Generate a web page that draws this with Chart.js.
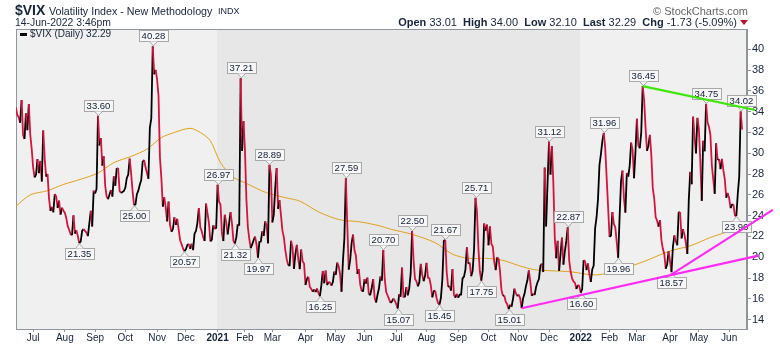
<!DOCTYPE html>
<html>
<head>
<meta charset="utf-8">
<script src="https://cdn.jsdelivr.net/npm/chart.js@4.4.0/dist/chart.umd.min.js"></script>
<style>
  html, body { margin: 0; padding: 0; background: #fff; }
  #wrap { position: relative; width: 780px; height: 345px; font-family: "Liberation Sans", Arial, sans-serif; color: #17253a; }
  #chart { position: absolute; left: 0; top: 0; }
  .t { position: absolute; white-space: nowrap; line-height: 1; }
  .t b { font-weight: bold; }
  .tri { display: inline-block; width: 0; height: 0; border-left: 4px solid transparent; border-right: 4px solid transparent; border-top: 5px solid #b3122f; margin-left: 3px; vertical-align: 1px; }
</style>
</head>
<body>
<div id="wrap">
  <canvas id="chart" width="780" height="345"></canvas>
  <div class="t" style="left:15px;top:3px;font-size:14px;font-weight:bold;">$VIX</div>
  <div class="t" style="left:49px;top:6px;font-size:10.7px;">Volatility Index - New Methodology</div>
  <div class="t" style="left:218px;top:7px;font-size:9px;">INDX</div>
  <div class="t" style="left:15px;top:18px;font-size:10.4px;">14-Jun-2022 3:46pm</div>
  <div class="t" style="right:32px;top:6px;font-size:11px;color:#666;">&copy; StockCharts.com</div>
  <div class="t" style="right:32px;top:17px;font-size:11px;"><b>Open</b> 33.01&nbsp; <b>High</b> 34.00&nbsp; <b>Low</b> 32.10&nbsp; <b>Last</b> 32.29&nbsp; <b>Chg</b> -1.73 (-5.09%)<span class="tri"></span></div>
  <div style="position:absolute;left:20px;top:33px;width:7px;height:3px;background:#000;"></div>
  <div class="t" style="left:30px;top:29px;font-size:10px;">$VIX (Daily) 32.29</div>
</div>
<script>
// ========================================
// Data
// Daily closes, one array per month.
// Day index 0 = 1 Jul 2020 (trading days).
// ========================================
const vixJun20 = [34.40, 33.67, 33.47, 32.94, 35.12, 31.77, 31.37, 33.84, 32.22, 34.73, 31.78, 30.43];
const vixJul20 = [28.62, 27.68, 27.94, 29.43, 28.08, 29.26, 27.29, 32.19, 29.52, 27.76, 28.00, 25.68, 24.46, 24.84, 24.32, 26.08, 25.84, 24.74, 25.44, 24.10, 24.76, 24.46];
const vixAug20 = [24.28, 23.76, 22.99, 22.65, 22.21, 22.13, 24.03, 22.28, 22.59, 22.05, 21.35, 21.51, 22.54, 22.72, 22.54, 22.37, 22.03, 23.27, 24.47, 22.96, 26.41];
const vixSep20 = [26.12, 26.57, 33.60, 30.75, 31.46, 28.81, 29.71, 26.87, 25.85, 25.59, 26.04, 26.46, 25.83, 27.78, 26.86, 28.58, 28.51, 26.38, 26.19, 26.27, 26.37];
const vixOct20 = [26.70, 27.63, 27.96, 29.48, 28.06, 26.36, 25.00, 25.07, 26.07, 26.40, 26.97, 27.41, 29.18, 29.35, 28.65, 28.11, 27.55, 32.46, 33.35, 40.28, 37.59, 38.02];
const vixNov20 = [37.13, 35.55, 29.57, 27.58, 24.86, 25.75, 24.80, 23.45, 25.35, 23.10, 22.45, 22.71, 23.84, 23.11, 23.70, 22.66, 21.64, 21.25, 20.84, 20.57];
const vixDec20 = [20.77, 21.17, 21.28, 20.79, 21.30, 20.68, 22.27, 22.52, 23.31, 24.72, 22.89, 22.50, 21.93, 21.57, 25.16, 24.23, 23.31, 21.53, 21.70, 23.08, 22.77, 22.75];
const vixJan21 = [26.97, 25.34, 25.07, 22.37, 21.56, 24.08, 23.33, 22.21, 23.25, 24.34, 23.24, 21.58, 21.32, 21.91, 23.19, 23.02, 37.21, 30.21, 33.09];
const vixFeb21 = [30.24, 25.56, 22.91, 21.77, 20.87, 21.24, 21.63, 21.99, 21.25, 19.97, 21.46, 21.50, 22.49, 22.05, 23.45, 23.11, 21.34, 28.89, 27.95];
const vixMar21 = [23.35, 24.10, 26.67, 28.57, 24.66, 25.47, 24.03, 22.56, 21.91, 20.69, 19.79, 19.23, 19.23, 21.58, 20.95, 18.88, 20.30, 21.20, 19.81, 18.86, 20.74, 19.61, 19.40];
const vixApr21 = [17.33, 17.91, 18.12, 17.16, 16.95, 16.69, 16.91, 16.65, 16.99, 16.57, 16.25, 17.29, 18.68, 17.50, 18.71, 17.33, 17.64, 17.56, 17.28, 17.61, 18.61];
const vixMay21 = [18.31, 19.48, 19.15, 18.39, 16.69, 19.66, 21.84, 27.59, 23.13, 18.81, 19.72, 21.34, 22.18, 20.67, 20.15, 18.40, 18.84, 17.36, 16.74, 16.76];
const vixJun21 = [17.90, 17.48, 18.04, 16.42, 16.42, 17.07, 17.89, 16.10, 15.65, 16.39, 17.02, 18.15, 17.75, 20.70, 17.89, 16.66, 16.32, 15.97, 15.62, 15.76, 16.02, 15.83];
const vixJul21 = [15.48, 15.07, 16.44, 16.20, 19.00, 16.18, 16.17, 17.12, 16.33, 17.01, 18.45, 22.50, 19.73, 17.91, 17.69, 17.20, 17.58, 19.36, 18.31, 17.70, 18.24];
const vixAug21 = [19.46, 18.04, 17.97, 17.28, 16.15, 16.72, 16.79, 16.06, 15.59, 15.45, 16.12, 17.91, 21.57, 21.67, 18.56, 17.15, 17.22, 16.79, 18.84, 16.39, 16.11, 16.48];
const vixSep21 = [16.11, 16.41, 16.41, 17.96, 18.14, 18.80, 20.95, 19.37, 19.46, 18.18, 18.69, 20.81, 25.71, 24.36, 20.87, 18.63, 17.75, 18.76, 23.25, 22.56, 23.14];
const vixOct21 = [21.15, 22.96, 21.30, 21.00, 19.54, 18.77, 20.00, 19.85, 18.64, 16.86, 16.30, 16.30, 15.70, 15.49, 15.01, 15.43, 15.24, 15.98, 16.98, 16.53, 16.26];
const vixNov21 = [16.41, 16.03, 15.10, 16.03, 16.48, 17.22, 17.78, 18.73, 17.66, 16.29, 16.49, 16.37, 17.11, 17.59, 17.91, 19.17, 19.38, 18.58, 28.62, 22.96, 27.19];
const vixDec21 = [31.12, 27.95, 30.67, 27.18, 21.89, 19.90, 21.58, 18.69, 20.31, 21.89, 19.29, 20.57, 21.57, 22.87, 19.70, 18.63, 17.96, 17.68, 17.54, 16.95, 17.33, 17.22];
const vixJan22 = [16.60, 16.91, 19.73, 19.61, 18.76, 19.40, 18.41, 17.62, 18.83, 19.19, 22.79, 23.85, 25.59, 28.85, 29.90, 31.16, 31.96, 30.49, 27.66, 24.83];
const vixFeb22 = [21.96, 22.09, 24.35, 23.22, 22.86, 21.44, 19.96, 23.91, 27.36, 28.33, 25.70, 24.29, 28.11, 27.75, 28.81, 31.02, 30.32, 27.59, 30.15];
const vixMar22 = [33.32, 30.74, 30.48, 31.98, 36.45, 35.13, 32.45, 30.23, 30.75, 31.77, 29.83, 26.67, 25.67, 23.87, 23.53, 22.94, 23.57, 21.67, 20.81, 20.31, 18.90, 19.33, 20.56];
const vixApr22 = [19.63, 18.57, 21.03, 22.10, 21.55, 21.16, 24.37, 24.26, 21.82, 22.70, 22.17, 21.37, 20.32, 25.52, 28.21, 27.02, 33.52, 31.60, 29.99, 33.40];
const vixMay22 = [32.34, 29.25, 25.42, 31.20, 30.19, 34.75, 32.99, 32.56, 31.77, 28.87, 27.47, 26.10, 30.96, 29.35, 29.43, 28.48, 29.45, 28.37, 27.50, 25.72, 26.19];
const vixJun22 = [25.69, 24.72, 25.07, 25.07, 24.02, 23.96, 26.09, 27.75, 34.02, 32.29];

// first trading day of each month and its axis label
const monthStarts = [0, 22, 43, 64, 86, 106, 128, 147, 166, 189, 210, 230, 252, 273, 295, 316, 337, 358, 380, 400, 419, 442, 462, 483];
const monthLabels = ['Jul', 'Aug', 'Sep', 'Oct', 'Nov', 'Dec', '2021', 'Feb', 'Mar', 'Apr', 'May', 'Jun', 'Jul', 'Aug', 'Sep', 'Oct', 'Nov', 'Dec', '2022', 'Feb', 'Mar', 'Apr', 'May', 'Jun'];
const yearStarts = [128, 380];
const yTicks = [14, 16, 18, 20, 22, 24, 26, 28, 30, 32, 34, 36, 38, 40];

// moving average
const smaDays = [-12, -2, 10, 21, 33, 45, 56, 68, 79, 89, 98, 109, 116, 123, 130, 139, 148, 162, 176, 185, 199, 213, 227, 241, 248, 263, 279, 291, 302, 314, 326, 337, 348, 360, 373, 391, 407, 424, 442, 456, 470, 481, 491];
const smaVals = [24.9, 26.0, 26.4, 27.0, 27.5, 28.1, 29.1, 29.7, 30.4, 31.5, 32.0, 32.4, 32.0, 31.2, 29.1, 27.7, 27.1, 26.2, 25.7, 25.4, 24.3, 23.6, 23.4, 23.0, 22.7, 22.2, 21.4, 20.3, 19.9, 19.9, 19.7, 19.2, 18.8, 18.7, 18.6, 18.3, 18.8, 19.6, 20.6, 21.1, 21.9, 22.4, 22.8];

// annotated highs / lows (day index)
const highMarks = [45, 83, 128, 144, 164, 217, 243, 263, 286, 307, 358, 371, 396, 423, 467, 491];
const lowMarks = [32, 70, 105, 140, 156, 199, 253, 282, 311, 330, 380, 406, 443, 488];

// hand-drawn trend lines
const greenX = [423, 501];
const greenY = [36.45, 34.16];
const pinkLowX = [339, 503.3];
const pinkLowY = [15.1, 20.15];
const pinkHighX = [443, 513.3];
const pinkHighY = [18.35, 24.55];

// ========================================
// Build series
// ========================================
const months = [vixJun20, vixJul20, vixAug20, vixSep20, vixOct20, vixNov20, vixDec20, vixJan21, vixFeb21, vixMar21, vixApr21, vixMay21, vixJun21, vixJul21, vixAug21, vixSep21, vixOct21, vixNov21, vixDec21, vixJan22, vixFeb22, vixMar22, vixApr22, vixMay22, vixJun22];
const starts = [-12, ...monthStarts];
const vix = [];
months.forEach((m, k) => m.forEach((v, i) => vix.push({ x: starts[k] + i, y: v })));
const byDay = {};
vix.forEach(p => { byDay[p.x] = p.y; });

const pts = (xs, ys) => xs.map((x, i) => ({ x, y: ys[i] }));

const FONT = '"Liberation Sans", Arial, sans-serif';
const INK = '#17253a';
const FRAME = '#8e959c';

function markBox(ctx, px, py, text, up) {
  ctx.font = '9.5px ' + FONT;
  const w = Math.round(ctx.measureText(text).width) + 5;
  const h = 11;
  const bx = Math.round(px - w / 2) + 0.5;
  const by = up ? Math.round(py - 5 - h) + 0.5 : Math.round(py + 5) + 0.5;
  ctx.fillStyle = '#f7f7f7';
  ctx.strokeStyle = '#a8a8a8';
  ctx.lineWidth = 1;
  ctx.fillRect(bx, by, w, h);
  ctx.strokeRect(bx, by, w, h);
  const baseY = up ? by + h : by;
  const tipY = up ? py - 0.5 : py + 0.5;
  ctx.beginPath();
  ctx.moveTo(px - 4, baseY);
  ctx.lineTo(px, tipY);
  ctx.lineTo(px + 4, baseY);
  ctx.fill();
  ctx.stroke();
  ctx.fillStyle = '#0f1e36';
  ctx.textAlign = 'center';
  ctx.textBaseline = 'middle';
  ctx.fillText(text, px, by + h / 2 + 0.5);
}

const decor = {
  id: 'decor',
  beforeDatasetsDraw(chart) {
    const { ctx, chartArea: a, scales: { x } } = chart;
    const b1 = Math.round(x.getPixelForValue(yearStarts[0] - 0.4));
    const b2 = Math.round(x.getPixelForValue(yearStarts[1] - 0.4));
    ctx.save();
    ctx.fillStyle = '#f0f0f0';
    ctx.fillRect(a.left, a.top, b1 - a.left, a.height);
    ctx.fillStyle = '#e7e7e7';
    ctx.fillRect(b1, a.top, b2 - b1, a.height);
    ctx.fillStyle = '#f0f0f0';
    ctx.fillRect(b2, a.top, a.right - b2, a.height);
    ctx.strokeStyle = FRAME;
    ctx.lineWidth = 1;
    ctx.strokeRect(a.left + 0.5, a.top + 0.5, a.width - 1, a.height);
    ctx.restore();
  },
  afterDatasetDraw(chart, args) {
    if (args.index !== 0) return;
    const { ctx, scales: { x, y } } = chart;
    ctx.save();
    highMarks.forEach(d => {
      markBox(ctx, Math.round(x.getPixelForValue(d)) + 0.5, y.getPixelForValue(byDay[d]), byDay[d].toFixed(2), true);
    });
    lowMarks.forEach(d => {
      markBox(ctx, Math.round(x.getPixelForValue(d)) + 0.5, y.getPixelForValue(byDay[d]), byDay[d].toFixed(2), false);
    });
    ctx.restore();
  }
};

new Chart(document.getElementById('chart'), {
  type: 'line',
  data: {
    datasets: [
      {
        data: vix,
        order: 1,
        borderWidth: 1.8,
        pointRadius: 0,
        borderColor: '#000',
        segment: { borderColor: c => (c.p1.parsed.y >= c.p0.parsed.y ? '#000000' : '#d4143f') }
      },
      { data: pts(smaDays, smaVals), order: 2, borderWidth: 1, pointRadius: 0, borderColor: '#e1a11c', tension: 0.3 },
      { data: pts(greenX, greenY), order: 0, borderWidth: 2.2, pointRadius: 0, borderColor: '#3ee60a', clip: false },
      { data: pts(pinkLowX, pinkLowY), order: 0, borderWidth: 2.2, pointRadius: 0, borderColor: '#ff2bf5', clip: false },
      { data: pts(pinkHighX, pinkHighY), order: 0, borderWidth: 2.2, pointRadius: 0, borderColor: '#ff2bf5', clip: false }
    ]
  },
  options: {
    responsive: false,
    animation: false,
    devicePixelRatio: 1,
    layout: { padding: { top: 29, left: 16, right: 0, bottom: 0 } },
    plugins: { legend: { display: false }, tooltip: { enabled: false } },
    scales: {
      x: {
        type: 'linear',
        min: -11.9,
        max: 495.4,
        afterBuildTicks: s => { s.ticks = monthStarts.map(v => ({ value: v })); },
        afterFit: s => { s.height = 16; },
        grid: { drawOnChartArea: false, tickLength: 3, color: FRAME },
        border: { color: FRAME },
        ticks: {
          autoSkip: false,
          maxRotation: 0,
          padding: 0,
          color: INK,
          font: c => ({ family: FONT, size: 10, weight: (c.tick && yearStarts.includes(c.tick.value)) ? 'bold' : 'normal' }),
          callback: v => monthLabels[monthStarts.indexOf(v)]
        }
      },
      y: {
        position: 'right',
        min: 13.1,
        max: 41.95,
        afterBuildTicks: s => { s.ticks = yTicks.map(v => ({ value: v })); },
        afterFit: s => { s.width = 33; },
        grid: { drawOnChartArea: false, tickLength: 4, color: FRAME },
        border: { color: FRAME },
        ticks: { padding: 1, color: INK, font: { family: FONT, size: 11 } }
      }
    }
  },
  plugins: [decor]
});
</script>
</body>
</html>
